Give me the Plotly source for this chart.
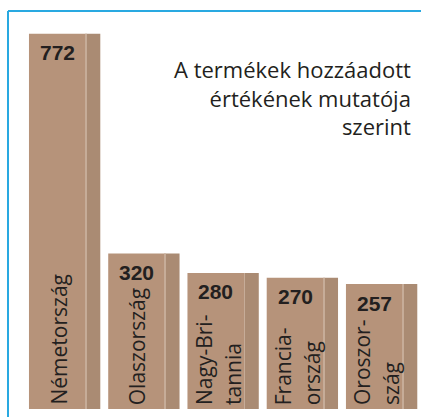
import plotly.graph_objects as go

countries = ["Németország", "Olaszország", "Nagy-Britannia", "Franciaország", "Oroszország"]
label_lines = [["Németország"], ["Olaszország"], ["Nagy-Bri-", "tannia"], ["Francia-", "ország"], ["Oroszor-", "szág"]]
values = [772, 320, 280, 270, 257]
title_lines = ["A termékek hozzáadott", "értékének mutatója", "szerint"]

FRONT = "rgb(182,147,122)"
SIDE = "rgb(170,139,115)"
EDGE = "rgb(198,172,152)"
TXT = "#231f20"

xs = list(range(len(values)))
fig = go.Figure()
fig.add_trace(go.Bar(x=xs, y=values, width=0.72, marker=dict(color=FRONT, line=dict(width=0)),
                     hoverinfo="skip"))
fig.add_trace(go.Bar(x=xs, y=values, width=0.18, offset=0.36,
                     marker=dict(color=SIDE, line=dict(width=0)), hoverinfo="skip"))
fig.add_trace(go.Bar(x=xs, y=values, width=0.012, offset=0.354,
                     marker=dict(color=EDGE, line=dict(width=0)), hoverinfo="skip"))

annotations = []
for i, (v, lines) in enumerate(zip(values, label_lines)):
    annotations.append(dict(x=i, y=v, yshift=-19, text=f"<b>{v}</b>", showarrow=False,
                            xanchor="center", yanchor="middle",
                            font=dict(family="Liberation Sans", size=21, color=TXT)))
    n = len(lines)
    if n == 1:
        shifts = [1]
    else:
        shifts = [-12, 17]
    for ln, sh in zip(lines, shifts):
        annotations.append(dict(x=i, y=0, yshift=2, xshift=sh, text=ln, showarrow=False,
                                textangle=-90, xanchor="center", yanchor="bottom",
                                font=dict(family="Open Sans", size=21, color=TXT)))

annotations.append(dict(x=413 / 421, y=1 - 98 / 417, xref="paper", yref="paper",
                        text="<br>".join(title_lines), align="right",
                        showarrow=False, xanchor="right", yanchor="middle",
                        font=dict(family="Open Sans", size=22, color=TXT)))

fig.update_layout(
    width=421, height=417,
    margin=dict(l=0, r=0, t=0, b=0),
    paper_bgcolor="white", plot_bgcolor="white",
    barmode="overlay", showlegend=False,
    xaxis=dict(range=[-0.7256, 4.587], visible=False, fixedrange=True),
    yaxis=dict(range=[-16.5, 841.5], visible=False, fixedrange=True),
    annotations=annotations,
    shapes=[
        dict(type="line", xref="paper", yref="paper", x0=8 / 421, x1=1, y0=1 - 11 / 417, y1=1 - 11 / 417,
             line=dict(color="#29a9e1", width=2)),
        dict(type="line", xref="paper", yref="paper", x0=8 / 421, x1=8 / 421, y0=1 - 11 / 417, y1=0,
             line=dict(color="#29a9e1", width=2)),
    ],
)

fig.write_html("out.html", config={"displayModeBar": False},
               post_script="document.body.style.margin='0';document.body.style.overflow='hidden';")
